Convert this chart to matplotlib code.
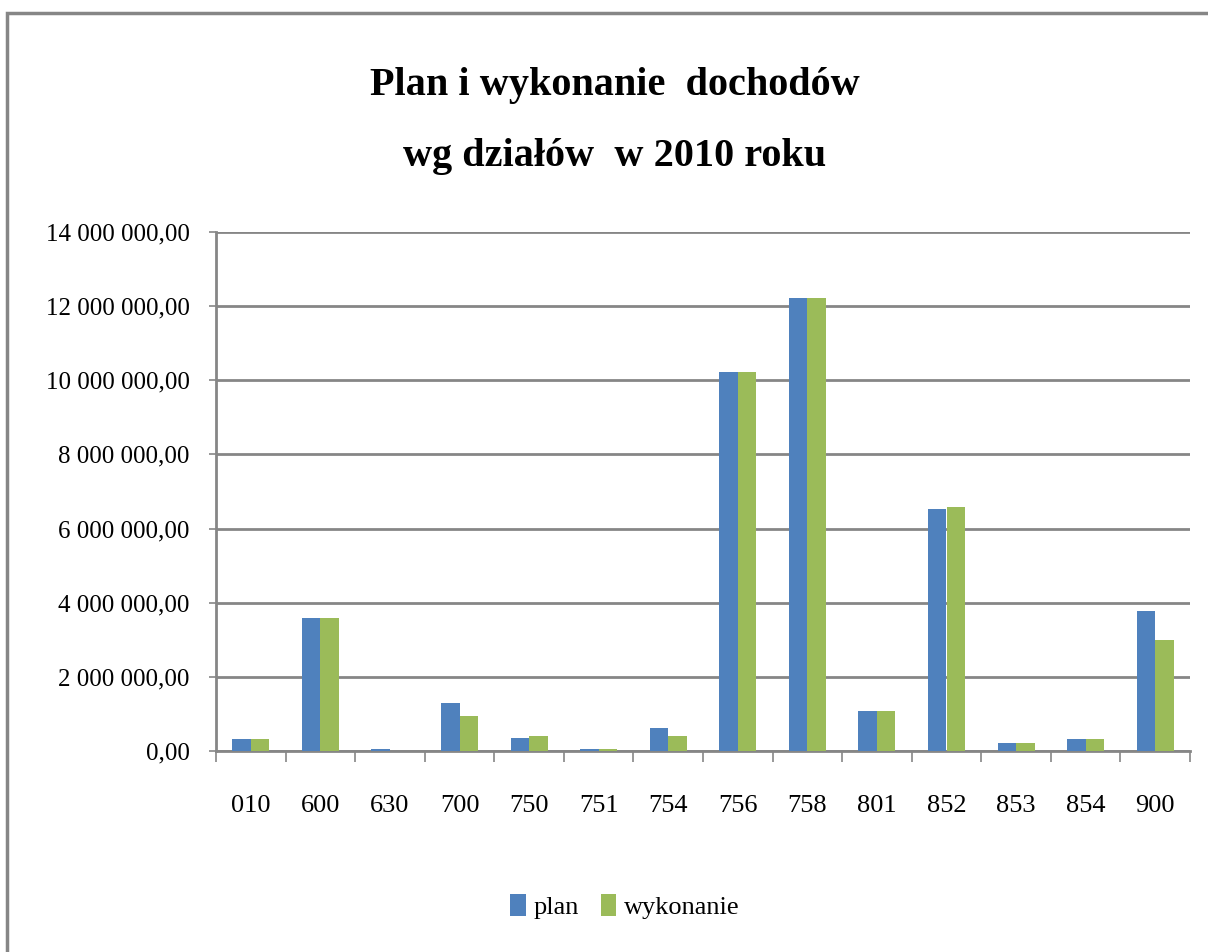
import numpy as np
import matplotlib
matplotlib.use("Agg")
import matplotlib.pyplot as plt
from matplotlib.patches import Rectangle
from matplotlib.ticker import FuncFormatter

dzialy = ["010", "600", "630", "700", "750", "751", "754",
          "756", "758", "801", "852", "853", "854", "900"]
plan = [330000, 3600000, 50000, 1300000, 350000, 50000, 620000,
        10220000, 12220000, 1080000, 6540000, 220000, 320000, 3780000]
wykonanie = [330000, 3600000, 0, 950000, 400000, 50000, 400000,
             10220000, 12220000, 1080000, 6590000, 220000, 320000, 3000000]

plt.rcParams['font.family'] = ['Liberation Serif', 'DejaVu Serif']

fig = plt.figure(figsize=(12.08, 9.52), dpi=100)
ax = fig.add_axes([216/1208, 1 - 751/952, (1190 - 216)/1208, (751 - 232)/952])

gray = "#868686"
x = np.arange(len(dzialy))
w = 0.265
ax.bar(x - w/2, plan, w, color="#4F81BD", label="plan", zorder=3)
ax.bar(x + w/2, wykonanie, w, color="#9BBB59", label="wykonanie", zorder=3)

ax.set_xlim(-0.5, len(dzialy) - 0.5)
ax.set_ylim(0, 14000000)
ax.set_yticks(np.arange(0, 14000001, 2000000))


def fmt(v, pos):
    s = f"{v:,.2f}".replace(",", " ").replace(".", ",")
    return s


ax.yaxis.set_major_formatter(FuncFormatter(fmt))
ax.grid(axis="y", color=gray, linewidth=2, zorder=0)

ax.set_xticks(x)
ax.set_xticklabels(dzialy)
ax.set_xticks(np.arange(-0.5, len(dzialy), 1), minor=True)
ax.tick_params(axis="x", which="major", length=0, pad=32, labelsize=19)
ax.tick_params(axis="x", which="minor", length=8, width=1.2, color=gray)
ax.tick_params(axis="y", length=5, width=1.2, color=gray, pad=14, labelsize=18)

for side in ["top", "right"]:
    ax.spines[side].set_visible(False)
for side in ["left", "bottom"]:
    ax.spines[side].set_color(gray)
    ax.spines[side].set_linewidth(2)

fig.text(0.509, 0.91, "Plan i wykonanie  dochodów", ha="center", va="center",
         fontsize=29, fontweight="bold")
fig.text(0.509, 0.836, "wg działów  w 2010 roku", ha="center", va="center",
         fontsize=29, fontweight="bold")

ax.legend(loc="center", bbox_to_anchor=(0.42, -0.3), ncol=2, frameon=False,
          fontsize=19, handlelength=0.6, handleheight=0.9, handletextpad=0.3,
          columnspacing=0.8)

fig.patches.append(Rectangle((7/1208, -0.1), 1.2, 1 - 13/952 + 0.1,
                             transform=fig.transFigure, fill=False,
                             edgecolor=gray, linewidth=2.5))

fig.savefig("out.png", dpi=100)
